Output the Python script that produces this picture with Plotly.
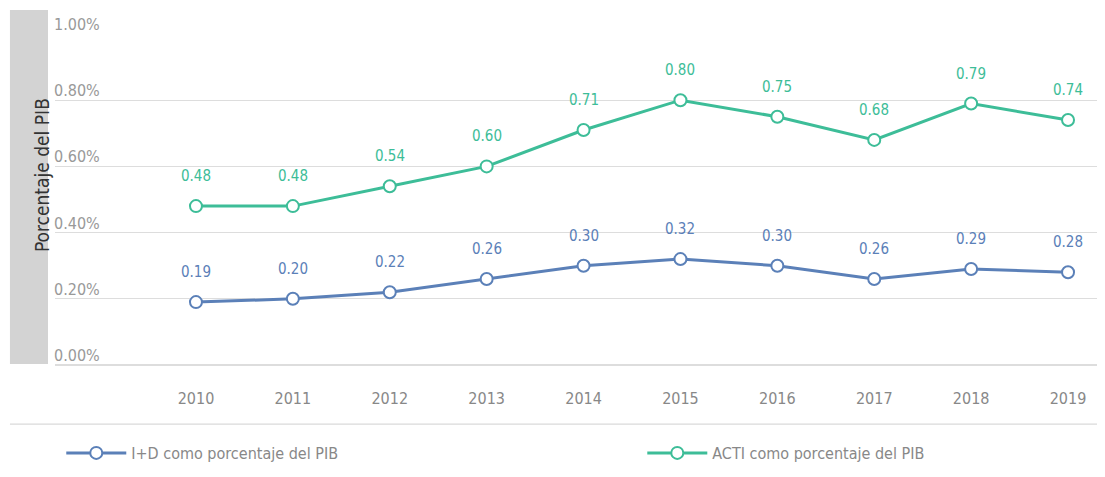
import plotly.graph_objects as go

years = [2010, 2011, 2012, 2013, 2014, 2015, 2016, 2017, 2018, 2019]
id_pib = [0.19, 0.20, 0.22, 0.26, 0.30, 0.32, 0.30, 0.26, 0.29, 0.28]
acti_pib = [0.48, 0.48, 0.54, 0.60, 0.71, 0.80, 0.75, 0.68, 0.79, 0.74]
y_ticks = [0.0, 0.2, 0.4, 0.6, 0.8, 1.0]
series_names = ["I+D como porcentaje del PIB", "ACTI como porcentaje del PIB"]

BLUE = "#5b80b8"
GREEN = "#3dbd98"
FONT = "DejaVu Sans Condensed, Liberation Sans Narrow, Roboto, sans-serif"

fig = go.Figure()
for name, vals, col, lg in [(series_names[0], id_pib, BLUE, "legend"),
                            (series_names[1], acti_pib, GREEN, "legend2")]:
    fig.add_trace(go.Scatter(
        x=years, y=vals, name=name, mode="lines+markers", legend=lg,
        line=dict(color=col, width=3),
        marker=dict(size=12, color="white", line=dict(color=col, width=2)),
    ))
    for xv, yv in zip(years, vals):
        fig.add_annotation(x=xv, y=yv, text=f"{yv:.2f}", showarrow=False,
                           yshift=30, font=dict(color=col, size=15, family=FONT))

for t in y_ticks:
    fig.add_annotation(x=-0.003, xref="paper", y=t, yref="y", text=f"{t:.2f}%",
                       showarrow=False, xanchor="left", yanchor="bottom", yshift=-2,
                       font=dict(color="#999999", size=16, family=FONT))

# gray title box
fig.add_shape(type="rect", xref="paper", yref="paper", x0=-0.0431, x1=-0.0067,
              y0=0.003, y1=1.069, fillcolor="#d3d3d3", line=dict(width=0), layer="below")
fig.add_annotation(x=-0.0249, xref="paper", y=0.572, yref="paper", text="Porcentaje del PIB",
                   textangle=-90, showarrow=False, font=dict(color="#333333", size=19, family=FONT))
# separator line above legend
fig.add_shape(type="line", xref="paper", yref="paper", x0=-0.0431, x1=1.01,
              y0=-0.178, y1=-0.178, line=dict(color="#d0d0d0", width=1))

legend_common = dict(orientation="h", xanchor="left", y=-0.265, yanchor="middle",
                     itemwidth=60, font=dict(size=16, color="#888888", family=FONT),
                     bgcolor="rgba(0,0,0,0)")

fig.update_layout(
    width=1097, height=469,
    margin=dict(l=47, r=5, t=25, b=112, autoexpand=False),
    paper_bgcolor="white", plot_bgcolor="white",
    font=dict(family=FONT, color="#888888"),
    xaxis=dict(range=[2008.545, 2019.33], tickmode="array", tickvals=years,
               ticktext=[str(y) for y in years], showgrid=False, zeroline=False,
               showline=False, tickfont=dict(size=16, color="#888888", family=FONT),
               ticks="", ticklabelstandoff=22, automargin=False),
    yaxis=dict(range=[0, 1.003], tickvals=y_ticks, showticklabels=False,
               gridcolor="#dddddd", gridwidth=1, zeroline=True, zerolinecolor="#dddddd",
               showline=False, automargin=False),
    showlegend=True,
    legend=dict(x=0.006, **legend_common),
    legend2=dict(x=0.562, **legend_common),
)

fig.write_html("out.html")
